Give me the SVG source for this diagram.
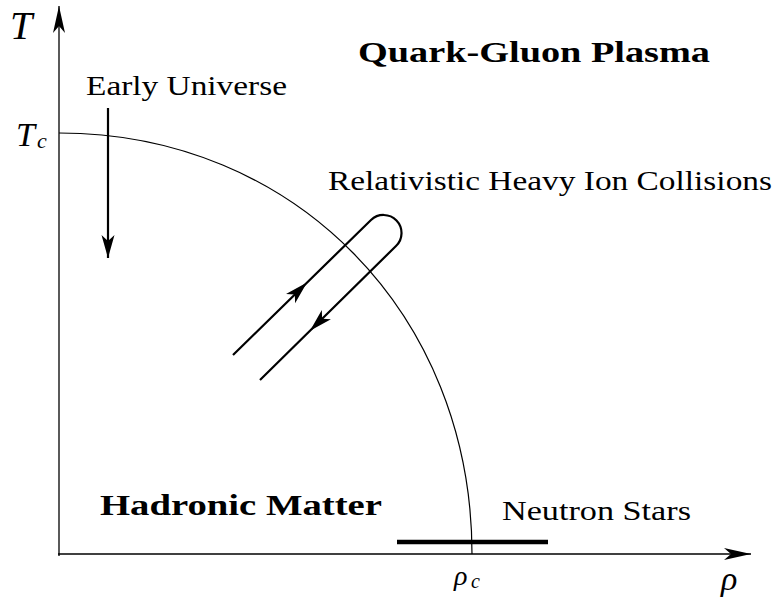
<svg xmlns="http://www.w3.org/2000/svg" width="775" height="602" viewBox="0 0 775 602">
<style>
.lbl{font-family:"Liberation Serif","DejaVu Serif",serif;fill:#000}
.b{font-weight:bold}
.it{font-style:italic}
.ax{stroke:#000;stroke-width:1.3;fill:none}
.thick{stroke:#000;stroke-width:2.2;fill:none}
</style>
<defs>
<path id="head" d="M0,0 L-23,-6.5 L-17,0 L-23,6.5 Z" fill="#000"/>
<marker id="axhead" markerUnits="userSpaceOnUse" viewBox="-28 -7 29 14" refX="0" refY="0" markerWidth="29" markerHeight="14" orient="auto">
<path d="M0,0 L-27,-6 L-20,0 L-27,6 Z" fill="#000"/>
</marker>
<marker id="arhead" markerUnits="userSpaceOnUse" viewBox="-25 -7 26 14" refX="0" refY="0" markerWidth="26" markerHeight="14" orient="auto">
<path d="M0,0 L-23,-6.5 L-17,0 L-23,6.5 Z" fill="#000"/>
</marker>
</defs>
<g id="axes">
<path class="ax" d="M59,556 L59,6" marker-end="url(#axhead)"/>
<path class="ax" d="M58,554 L751,554" marker-end="url(#axhead)"/>
</g>
<g id="phase-boundary">
<path d="M59,133 C294,133 472,314 472,554" stroke="#000" stroke-width="1.2" fill="none"/>
</g>
<g id="connectors">
<path id="early-universe-arrow" class="thick" d="M108,108 L108,258" marker-end="url(#arhead)"/>
<path id="heavy-ion-path" class="thick" d="M233,355 L371,220 A18,18 0 0 1 396,246 L260,380"/>
<use href="#head" transform="translate(307,282.6) rotate(-44.4)"/>
<use href="#head" transform="translate(310,330.7) rotate(135.4)"/>
<path id="neutron-star-bar" d="M397,542 L548,542" stroke="#000" stroke-width="4.5"/>
</g>
<g id="labels">
<text class="lbl it" x="10" y="39" font-size="40">T</text>
<text class="lbl it" x="16" y="146" font-size="34">T</text>
<text class="lbl it" x="37" y="148" font-size="22">c</text>
<text class="lbl it" x="454" y="585" font-size="28">ρ</text>
<text class="lbl it" x="471" y="588" font-size="20">c</text>
<text class="lbl it" x="721" y="590" font-size="34">ρ</text>
</g>
<g id="node-early-universe"><text class="lbl" x="86" y="95" font-size="28" textLength="201" lengthAdjust="spacingAndGlyphs">Early Universe</text></g>
<g id="node-qgp"><text class="lbl b" x="358" y="62" font-size="29" textLength="352" lengthAdjust="spacingAndGlyphs">Quark-Gluon Plasma</text></g>
<g id="node-rhic"><text class="lbl" x="328" y="190" font-size="28" textLength="444" lengthAdjust="spacingAndGlyphs">Relativistic Heavy Ion Collisions</text></g>
<g id="node-hadronic"><text class="lbl b" x="100" y="515" font-size="29" textLength="282" lengthAdjust="spacingAndGlyphs">Hadronic Matter</text></g>
<g id="node-neutron"><text class="lbl" x="502" y="520" font-size="28" textLength="189" lengthAdjust="spacingAndGlyphs">Neutron Stars</text></g>
</svg>
